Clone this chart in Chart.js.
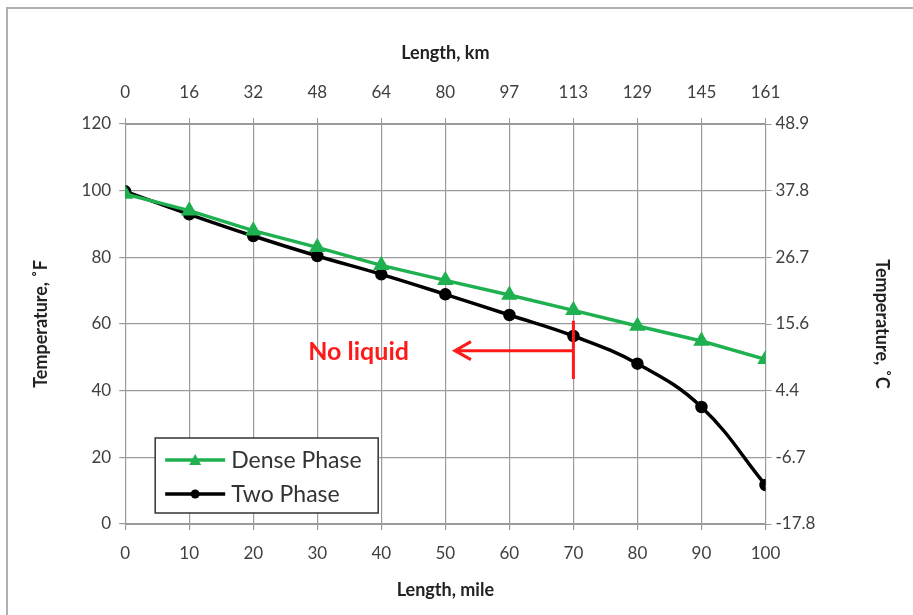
<!DOCTYPE html>
<html>
<head>
<meta charset="utf-8">
<script src="https://cdn.jsdelivr.net/npm/chart.js@4/dist/chart.umd.min.js"></script>
<style>
  html, body { margin: 0; padding: 0; background: #fff; }
  #wrap { width: 913px; height: 615px; position: relative; }
</style>
</head>
<body>
<div id="wrap"><canvas id="chart" width="913" height="615"></canvas></div>
<script>
// values
const lengthMiles = [0, 10, 20, 30, 40, 50, 60, 70, 80, 90, 100];
const densePhaseF = [99, 94, 88, 83, 77.6, 73.1, 68.7, 64.1, 59.4, 54.9, 49.4];
const twoPhaseF = [99.8, 92.9, 86.4, 80.4, 74.9, 68.9, 62.7, 56.4, 48.1, 35.1, 11.7];

// "No liquid" marker (mile, °F)
const markerMile = 70;
const markerTop = 61;
const markerBottom = 43.5;
const arrowEndMile = 51.5;
const arrowTemp = 52;

const FONT = "Lato, 'Open Sans', sans-serif";
const TICK_COLOR = "#404040";
const GRID_COLOR = "#9a9a9a";

function toPoints(ys) {
    return lengthMiles.map(function (x, i) { return { x: x, y: ys[i] }; });
}

// frame round the picture, the arrow note and the boxed legend
const extrasPlugin = {
    id: "extras",
    afterDraw: function (chart) {
        const ctx = chart.ctx;
        const xs = chart.scales.x;
        const ys = chart.scales.y;
        const area = chart.chartArea;

        ctx.save();
        // outer frame
        ctx.strokeStyle = "#b0b0b0";
        ctx.lineWidth = 2;
        ctx.beginPath();
        ctx.moveTo(7, 615);
        ctx.lineTo(7, 8);
        ctx.lineTo(913, 8);
        ctx.stroke();

        // red marker
        const mx = xs.getPixelForValue(markerMile);
        const ay = ys.getPixelForValue(arrowTemp);
        const ax = xs.getPixelForValue(arrowEndMile);
        ctx.strokeStyle = "#ff1a1a";
        ctx.lineWidth = 3;
        ctx.beginPath();
        ctx.moveTo(mx, ys.getPixelForValue(markerTop));
        ctx.lineTo(mx, ys.getPixelForValue(markerBottom));
        ctx.moveTo(mx, ay);
        ctx.lineTo(ax, ay);
        ctx.moveTo(ax + 16, ay - 9);
        ctx.lineTo(ax, ay);
        ctx.lineTo(ax + 16, ay + 9);
        ctx.stroke();

        ctx.fillStyle = "#ff1a1a";
        ctx.font = "bold 25px " + FONT;
        ctx.textAlign = "right";
        ctx.textBaseline = "middle";
        ctx.fillText("No liquid", ax - 46, ay + 1);

        // legend box
        const lx = area.left + 30, ly = area.bottom - 86, lw = 223, lh = 75;
        ctx.fillStyle = "#fff";
        ctx.fillRect(lx, ly, lw, lh);
        ctx.strokeStyle = "#333";
        ctx.lineWidth = 1.5;
        ctx.strokeRect(lx, ly, lw, lh);

        ctx.font = "23px " + FONT;
        ctx.textAlign = "left";
        chart.data.datasets.forEach(function (ds, i) {
            const y = ly + 22 + i * 34;
            ctx.strokeStyle = ds.borderColor;
            ctx.lineWidth = ds.borderWidth;
            ctx.beginPath();
            ctx.moveTo(lx + 10, y);
            ctx.lineTo(lx + 70, y);
            ctx.stroke();
            ctx.fillStyle = ds.pointBackgroundColor;
            ctx.beginPath();
            if (ds.pointStyle === "triangle") {
                ctx.moveTo(lx + 40, y - 6);
                ctx.lineTo(lx + 46, y + 5);
                ctx.lineTo(lx + 34, y + 5);
                ctx.closePath();
            } else {
                ctx.arc(lx + 40, y, 4.5, 0, Math.PI * 2);
            }
            ctx.fill();
            ctx.fillStyle = "#333";
            ctx.fillText(ds.label, lx + 76, y + 1);
        });
        ctx.restore();
    }
};

function axisTitle(text) {
    return { display: true, text: text, color: "#222", font: { family: FONT, size: 18, weight: "bold" } };
}

const tickFont = { family: FONT, size: 17 };

new Chart(document.getElementById("chart"), {
    type: "line",
    data: {
        datasets: [
            {
                label: "Dense Phase",
                data: toPoints(densePhaseF),
                borderColor: "#1fb050",
                pointBackgroundColor: "#1fb050",
                pointBorderColor: "#1fb050",
                borderWidth: 3.5,
                pointStyle: "triangle",
                pointRadius: 6,
                tension: 0
            },
            {
                label: "Two Phase",
                data: toPoints(twoPhaseF),
                borderColor: "#000",
                pointBackgroundColor: "#000",
                pointBorderColor: "#000",
                borderWidth: 3.5,
                pointStyle: "circle",
                pointRadius: 4.5,
                tension: 0.4
            }
        ]
    },
    options: {
        responsive: false,
        animation: false,
        layout: { padding: { top: 38, left: 26, right: 18, bottom: 10 } },
        plugins: { legend: { display: false }, tooltip: { enabled: false } },
        scales: {
            x: {
                type: "linear", position: "bottom", min: 0, max: 100,
                ticks: { stepSize: 10, color: TICK_COLOR, font: tickFont, padding: 13 },
                grid: { color: GRID_COLOR, tickLength: 6, lineWidth: 1.2 },
                border: { color: GRID_COLOR },
                title: Object.assign(axisTitle("Length, mile"), { padding: { top: 3 } })
            },
            x2: {
                type: "linear", position: "top", min: 0, max: 100,
                ticks: {
                    stepSize: 10, color: TICK_COLOR, font: tickFont, padding: 15,
                    callback: function (v) { return Math.round(v * 1.60934); }
                },
                grid: { drawOnChartArea: false, color: GRID_COLOR, tickLength: 6 },
                border: { color: GRID_COLOR },
                title: Object.assign(axisTitle("Length, km"), { padding: { bottom: 4 } })
            },
            y: {
                position: "left", min: 0, max: 120,
                ticks: { stepSize: 20, color: TICK_COLOR, font: tickFont, padding: 8 },
                grid: { color: GRID_COLOR, tickLength: 6, lineWidth: 1.2 },
                border: { color: GRID_COLOR },
                title: Object.assign(axisTitle("Temperature, ˚F"), { padding: { bottom: 22 } })
            },
            y2: {
                position: "right", min: 0, max: 120,
                ticks: {
                    stepSize: 20, color: TICK_COLOR, font: tickFont, padding: 4,
                    callback: function (v) { return ((v - 32) * 5 / 9).toFixed(1); }
                },
                grid: { drawOnChartArea: false, color: GRID_COLOR, tickLength: 6 },
                border: { color: GRID_COLOR },
                title: Object.assign(axisTitle("Temperature, ˚C"), { padding: { top: 2, bottom: 52 } })
            }
        }
    },
    plugins: [extrasPlugin]
});
</script>
</body>
</html>
